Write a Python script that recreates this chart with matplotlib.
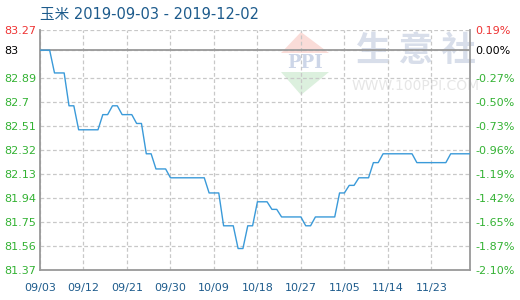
import pandas as pd
import matplotlib.pyplot as plt
from matplotlib.patches import Polygon

plt.rcParams["font.family"] = ["DejaVu Sans", "Noto Sans CJK SC"]

title = "玉米 2019-09-03 - 2019-12-02"
start_date = "2019-09-03"

# daily price, 09/03 .. 12/01
prices = [
    83.11, 83.11, 83.11, 82.93, 82.93, 82.93, 82.67, 82.67, 82.48, 82.48,
    82.48, 82.48, 82.48, 82.60, 82.60, 82.67, 82.67, 82.60, 82.60, 82.60,
    82.53, 82.53, 82.29, 82.29, 82.17, 82.17, 82.17, 82.10, 82.10, 82.10,
    82.10, 82.10, 82.10, 82.10, 82.10, 81.98, 81.98, 81.98, 81.72, 81.72,
    81.72, 81.54, 81.54, 81.72, 81.72, 81.91, 81.91, 81.91, 81.85, 81.85,
    81.79, 81.79, 81.79, 81.79, 81.79, 81.72, 81.72, 81.79, 81.79, 81.79,
    81.79, 81.79, 81.98, 81.98, 82.04, 82.04, 82.10, 82.10, 82.10, 82.22,
    82.22, 82.29, 82.29, 82.29, 82.29, 82.29, 82.29, 82.29, 82.22, 82.22,
    82.22, 82.22, 82.22, 82.22, 82.22, 82.29, 82.29, 82.29, 82.29, 82.29,
]

base_price = 83.11
y_ticks = [83.27, 83.11, 82.89, 82.70, 82.51, 82.32, 82.13, 81.94, 81.75, 81.56, 81.37]
left_labels = ["83.27", "83", "82.89", "82.7", "82.51", "82.32", "82.13",
               "81.94", "81.75", "81.56", "81.37"]
right_labels = ["0.19%", "0.00%", "-0.27%", "-0.50%", "-0.73%", "-0.96%",
                "-1.19%", "-1.42%", "-1.65%", "-1.87%", "-2.10%"]
x_tick_labels = ["09/03", "09/12", "09/21", "09/30", "10/09", "10/18",
                 "10/27", "11/05", "11/14", "11/23"]

GREEN = "#33b233"
RED = "#ee3333"
BLUE_TEXT = "#1d5b8c"
LINE = "#3a9ad9"
GRID = "#c8c8c8"
FRAME = "#999999"


def main():
    dates = pd.date_range(start_date, periods=len(prices), freq="D")
    tick_dates = pd.to_datetime(["2019/" + t for t in x_tick_labels])

    fig = plt.figure(figsize=(5.2, 3.0), dpi=100)
    ax = fig.add_axes([40 / 520, 0.1, 430.5 / 520, 0.8])

    # watermark
    wm = fig.add_axes([0, 0, 1, 1], zorder=-1)
    wm.set_xlim(0, 520)
    wm.set_ylim(300, 0)
    wm.axis("off")
    wm.add_patch(Polygon([[301, 32], [281, 53], [329, 53]], closed=True,
                         color="#fadcd8", lw=0))
    wm.add_patch(Polygon([[281, 72], [329, 72], [301, 95]], closed=True,
                         color="#dcf0de", lw=0))
    wm.text(305, 63, "PPI", fontsize=13, fontweight="bold", family="DejaVu Serif",
            color="#cdd6e8", ha="center", va="center")
    wm.text(416, 50, "生 意 社", fontsize=25, fontweight="bold", color="#d8deea",
            ha="center", va="center", family=["Noto Sans CJK SC"])
    wm.text(416, 86, "WWW.100PPI.COM", fontsize=10, color="#e6e6e6",
            ha="center", va="center")
    ax.patch.set_alpha(0)

    ax.plot(dates, prices, color=LINE, lw=1.0, zorder=3)
    ax.axhline(base_price, color=FRAME, lw=1.3, zorder=2)

    ax.set_xlim(dates[0], dates[0] + pd.Timedelta(days=89.1))
    ax.set_ylim(81.37, 83.27)

    ax.set_xticks(tick_dates)
    ax.set_xticklabels(x_tick_labels)
    ax.set_yticks(y_ticks)
    ax.set_yticklabels(left_labels)

    ax.grid(True, color=GRID, linestyle=(0, (3, 2)), lw=0.9)
    ax.tick_params(axis="x", length=0, pad=9, labelsize=8, labelcolor=BLUE_TEXT)
    ax.tick_params(axis="y", length=0, pad=25.5, labelsize=8)
    for label in ax.get_yticklabels():
        label.set_horizontalalignment("left")
        label.set_color(GREEN)
    ax.get_yticklabels()[0].set_color(RED)
    ax.get_yticklabels()[1].set_color("black")

    for side in ["left", "bottom", "right"]:
        ax.spines[side].set_color(FRAME)
        ax.spines[side].set_linewidth(1.3)
    ax.spines["top"].set_visible(False)

    ax_right = ax.twinx()
    ax_right.set_ylim(ax.get_ylim())
    ax_right.set_yticks(y_ticks)
    ax_right.set_yticklabels(right_labels)
    ax_right.tick_params(axis="y", length=0, pad=3.5, labelsize=8)
    for label in ax_right.get_yticklabels():
        label.set_color(GREEN)
    ax_right.get_yticklabels()[0].set_color(RED)
    ax_right.get_yticklabels()[1].set_color("black")
    for spine in ax_right.spines.values():
        spine.set_visible(False)

    fig.text(40 / 520, 1 - 15 / 300, title, fontsize=10.5, color=BLUE_TEXT,
             ha="left", va="center", family=["DejaVu Sans", "Noto Sans CJK SC"])

    fig.savefig("out.png", dpi=100)
    plt.close(fig)


if __name__ == "__main__":
    main()
